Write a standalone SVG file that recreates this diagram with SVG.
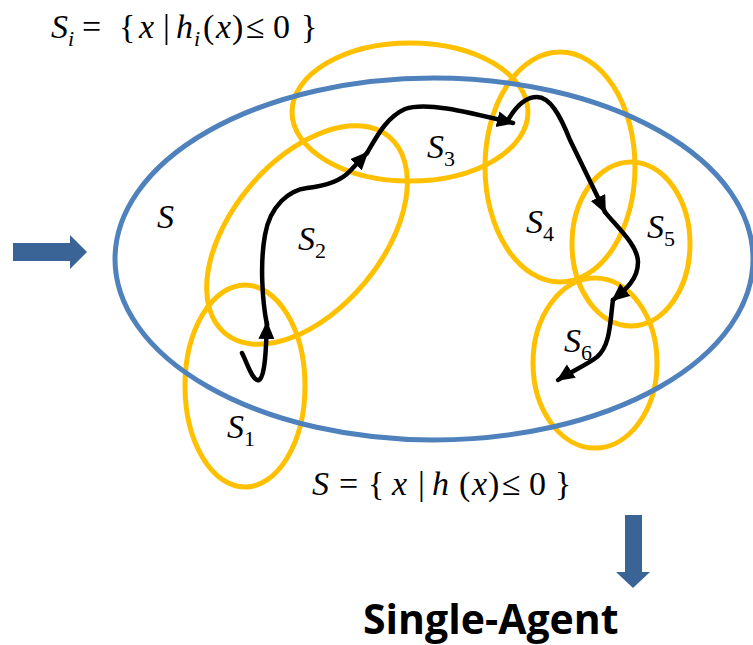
<svg xmlns="http://www.w3.org/2000/svg" width="753" height="645" viewBox="0 0 753 645">
<style>
.set{fill:none;stroke:#FFC000;stroke-width:5}
.uni{fill:none;stroke:#4F81BD;stroke-width:5}
.path{fill:none;stroke:#000;stroke-width:4.5;stroke-linecap:round;stroke-linejoin:round}
.m{font-family:"Liberation Serif","Times New Roman",serif;font-size:34px;fill:#000}
.it{font-style:italic}
.sub{font-size:22px;font-style:normal}
.isub{font-size:22px;font-style:italic}
.blk{fill:#3B6496}
.title{font-family:"Open Sans","Liberation Sans",sans-serif;font-weight:bold;font-size:41px;fill:#000}
</style>
<defs>
<marker id="ah" markerUnits="userSpaceOnUse" markerWidth="20" markerHeight="18" refX="16" refY="8" orient="auto">
<path d="M0,0 L18,8 L0,16 Z" fill="#000"/>
</marker>
</defs>
<g id="sets">
<ellipse id="S1" class="set" cx="245" cy="386" rx="60" ry="101"/>
<ellipse id="S2" class="set" cx="307" cy="235" rx="128" ry="75" transform="rotate(-50 307 235)"/>
<ellipse id="S3" class="set" cx="410" cy="112" rx="118" ry="69"/>
<ellipse id="S4" class="set" cx="560" cy="167" rx="75" ry="115"/>
<ellipse id="S5" class="set" cx="631" cy="244" rx="59" ry="82"/>
<ellipse id="S6" class="set" cx="595" cy="363" rx="62" ry="85"/>
</g>
<g id="S">
<ellipse class="uni" cx="434" cy="259" rx="319" ry="181"/>
</g>
<g id="connectors">
<path class="path" marker-end="url(#ah)" d="M242,353 C248,365 253,382 259,380 C265,377 266,350 267,323"/>
<path class="path" marker-end="url(#ah)" d="M267,325 C262,300 260,262 265,235 C270,205 290,190 307,188 C325,186 340,182 350,171 L367,153"/>
<path class="path" marker-end="url(#ah)" d="M367,153 C375,140 385,118 405,109 C425,102 460,110 513,123"/>
<path class="path" marker-end="url(#ah)" d="M508,120 C515,108 525,97 537,97 C550,97 560,115 570,140 L605,212"/>
<path class="path" marker-end="url(#ah)" d="M605,212 C615,225 638,245 638,262 C638,280 625,290 613,300"/>
<path class="path" marker-end="url(#ah)" d="M613,300 C610,320 611,345 597,357 C585,366 570,372 558,380"/>
</g>
<g id="labels">
<text class="m"><tspan class="it" x="51" y="38">S</tspan><tspan class="isub" x="68" y="46">i</tspan><tspan x="82" y="38">=</tspan><tspan x="119" y="38">{</tspan><tspan class="it" x="139" y="38">x</tspan><tspan x="163" y="38">|</tspan><tspan class="it" x="176" y="38">h</tspan><tspan class="isub" x="194" y="46">i</tspan><tspan x="203" y="38">(</tspan><tspan class="it" x="216" y="38">x</tspan><tspan x="232" y="38">)</tspan><tspan x="246" y="38">≤</tspan><tspan x="273" y="38">0</tspan><tspan x="301" y="38">}</tspan></text>
<text class="m"><tspan class="it" x="312" y="495">S</tspan><tspan x="339" y="495">=</tspan><tspan x="368" y="495">{</tspan><tspan class="it" x="392" y="495">x</tspan><tspan x="418" y="495">|</tspan><tspan class="it" x="432" y="495">h</tspan><tspan x="459" y="495">(</tspan><tspan class="it" x="472" y="495">x</tspan><tspan x="488" y="495">)</tspan><tspan x="502" y="495">≤</tspan><tspan x="529" y="495">0</tspan><tspan x="555" y="495">}</tspan></text>
<text class="m it" x="157" y="228">S</text>
<text class="m"><tspan class="it" x="227" y="438">S</tspan><tspan class="sub" dy="8">1</tspan></text>
<text class="m"><tspan class="it" x="298" y="250">S</tspan><tspan class="sub" dy="8">2</tspan></text>
<text class="m"><tspan class="it" x="427" y="158">S</tspan><tspan class="sub" dy="8">3</tspan></text>
<text class="m"><tspan class="it" x="526" y="233">S</tspan><tspan class="sub" dy="8">4</tspan></text>
<text class="m"><tspan class="it" x="647" y="238">S</tspan><tspan class="sub" dy="8">5</tspan></text>
<text class="m"><tspan class="it" x="564" y="352">S</tspan><tspan class="sub" dy="8">6</tspan></text>
</g>
<g id="arrows">
<polygon class="blk" points="13,243 70,243 70,235 87,252 70,269 70,261 13,261"/>
<polygon class="blk" points="625,515 642,515 642,572 650,572 633,588 616,572 625,572"/>
</g>
<text class="title" x="363" y="634">Single-Agent</text>
</svg>
